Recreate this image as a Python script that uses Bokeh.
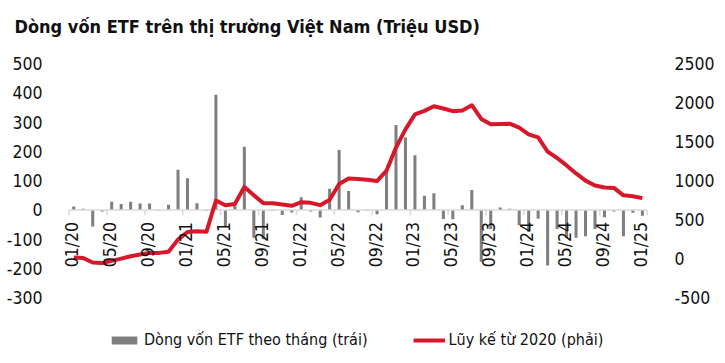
import numpy as np
from bokeh.plotting import figure
from bokeh.models import Range1d, LinearAxis, FixedTicker, Legend, LegendItem, PrintfTickFormatter, Title
from bokeh.embed import file_html
from bokeh.resources import INLINE
from bokeh.core.properties import value

# ---- data (million USD) ----
flows = [12, 4, -57, -5, 28, 20, 28, 22, 22, -2, 18, 137,            # 2020
         108, 23, -3, 393, -57, 14, 216, -95, -100, -3, -17, -9,     # 2021
         43, -5, -26, 72, 205, 65, -8, -3, -15, 140, 290, 247,       # 2022
         187, 48, 57, -31, -32, 16, 68, -177, -65, 8, 4, -52,        # 2023
         -75, -30, -190, -65, -95, -95, -90, -65, -25, -5, -90, -10, # 2024
         -20]                                                        # 01/2025
cumulative = [17, 8, -48, -56, -28, 2, 32, 55, 75, 75, 90, 245,
              343, 353, 345, 745, 685, 702, 920, 812, 712, 710, 695, 678,
              724, 716, 686, 755, 958, 1028, 1022, 1012, 995, 1127, 1423, 1657,
              1848, 1893, 1953, 1924, 1890, 1899, 1966, 1790, 1721, 1725, 1729, 1678,
              1592, 1555, 1372, 1290, 1195, 1092, 1000, 938, 913, 907, 812, 800, 776]
tick_labels = ["01/20", "05/20", "09/20", "01/21", "05/21", "09/21", "01/22", "05/22",
               "09/22", "01/23", "05/23", "09/23", "01/24", "05/24", "09/24", "01/25"]
left_ticks = [-300, -200, -100, 0, 100, 200, 300, 400, 500]
right_ticks = [-500, 0, 500, 1000, 1500, 2000, 2500]

TITLE = "Dòng vốn ETF trên thị trường Việt Nam (Triệu USD)"
BAR_LABEL = "Dòng vốn ETF theo tháng (trái)"
LINE_LABEL = "Lũy kế từ 2020 (phải)"

FONT = "DejaVu Sans Condensed, Roboto, sans-serif"
GRAY = "#7f7f7f"
RED = "#d7182a"
TXT = "#111111"

n = len(flows)
idx = list(range(n))
tick_pos = list(range(0, n, 4))

# left axis shows -300..500; frame extends lower to hold the legend
L_LO, L_HI = -480, 500
R_LO = (L_LO + 300) * 3000 / 800 - 500
R_HI = 2500

p = figure(width=720, height=356, x_range=Range1d(-1.4, 61.7), y_range=Range1d(L_LO, L_HI),
           output_backend="svg", toolbar_location=None, x_axis_location=None,
           min_border_left=60, min_border_right=62, min_border_top=63, min_border_bottom=6)
p.extra_y_ranges = {"right": Range1d(R_LO, R_HI)}
p.outline_line_color = None
p.xgrid.visible = False
p.ygrid.visible = False
p.background_fill_color = "white"
p.border_fill_color = "white"

p.title.text = TITLE
p.title.text_font = FONT
p.title.text_font_size = "18px"
p.title.text_font_style = "bold"
p.title.text_color = TXT
p.title.offset = -46
p.title.standoff = 23

# blank spacer between the title and the plot area
p.add_layout(Title(text=" ", text_font_size="1px", standoff=12), "above")

def style_axis(ax, standoff):
    ax.axis_line_color = None
    ax.major_tick_line_color = None
    ax.minor_tick_line_color = None
    ax.major_label_text_font = FONT
    ax.major_label_text_font_size = "17.5px"
    ax.major_label_text_color = TXT
    ax.major_label_standoff = standoff
    ax.formatter = PrintfTickFormatter(format="%d")

p.yaxis.ticker = FixedTicker(ticks=left_ticks)
style_axis(p.yaxis[0], 12)
rax = LinearAxis(y_range_name="right", ticker=FixedTicker(ticks=right_ticks))
style_axis(rax, 10)
p.add_layout(rax, "right")

bars = p.vbar(x=idx, top=flows, bottom=0, width=0.32, fill_color=GRAY, line_color=None)

# category axis drawn at zero
p.segment(x0=[-0.5], y0=[0], x1=[n - 0.5], y1=[0], line_color="#d9d9d9", line_width=1.5)
tk = [t - 0.5 for t in tick_pos if t < n - 1] + [n - 0.5]
p.segment(x0=tk, y0=[0] * len(tk), x1=tk, y1=[-18] * len(tk), line_color="#d9d9d9", line_width=1.5)

line = p.line(x=idx, y=cumulative, y_range_name="right", line_color=RED, line_width=4,
              line_join="round")

p.text(x=tick_pos, y=[0] * len(tick_pos), text=tick_labels, angle=np.pi / 2,
       text_align="right", text_baseline="middle", x_offset=-1.5, y_offset=12,
       text_font=value(FONT), text_font_size="17.5px", text_color=TXT)

legend = Legend(items=[LegendItem(label=BAR_LABEL, renderers=[bars]),
                       LegendItem(label=LINE_LABEL, renderers=[line])],
                orientation="horizontal", location=(48, 1),
                glyph_width=32, glyph_height=10, label_standoff=4, spacing=45,
                label_text_font=FONT, label_text_font_size="16px", label_text_color=TXT,
                border_line_color=None, background_fill_alpha=0, padding=0, margin=0)
p.add_layout(legend, "center")

open("out.html", "w").write(file_html(p, INLINE))
